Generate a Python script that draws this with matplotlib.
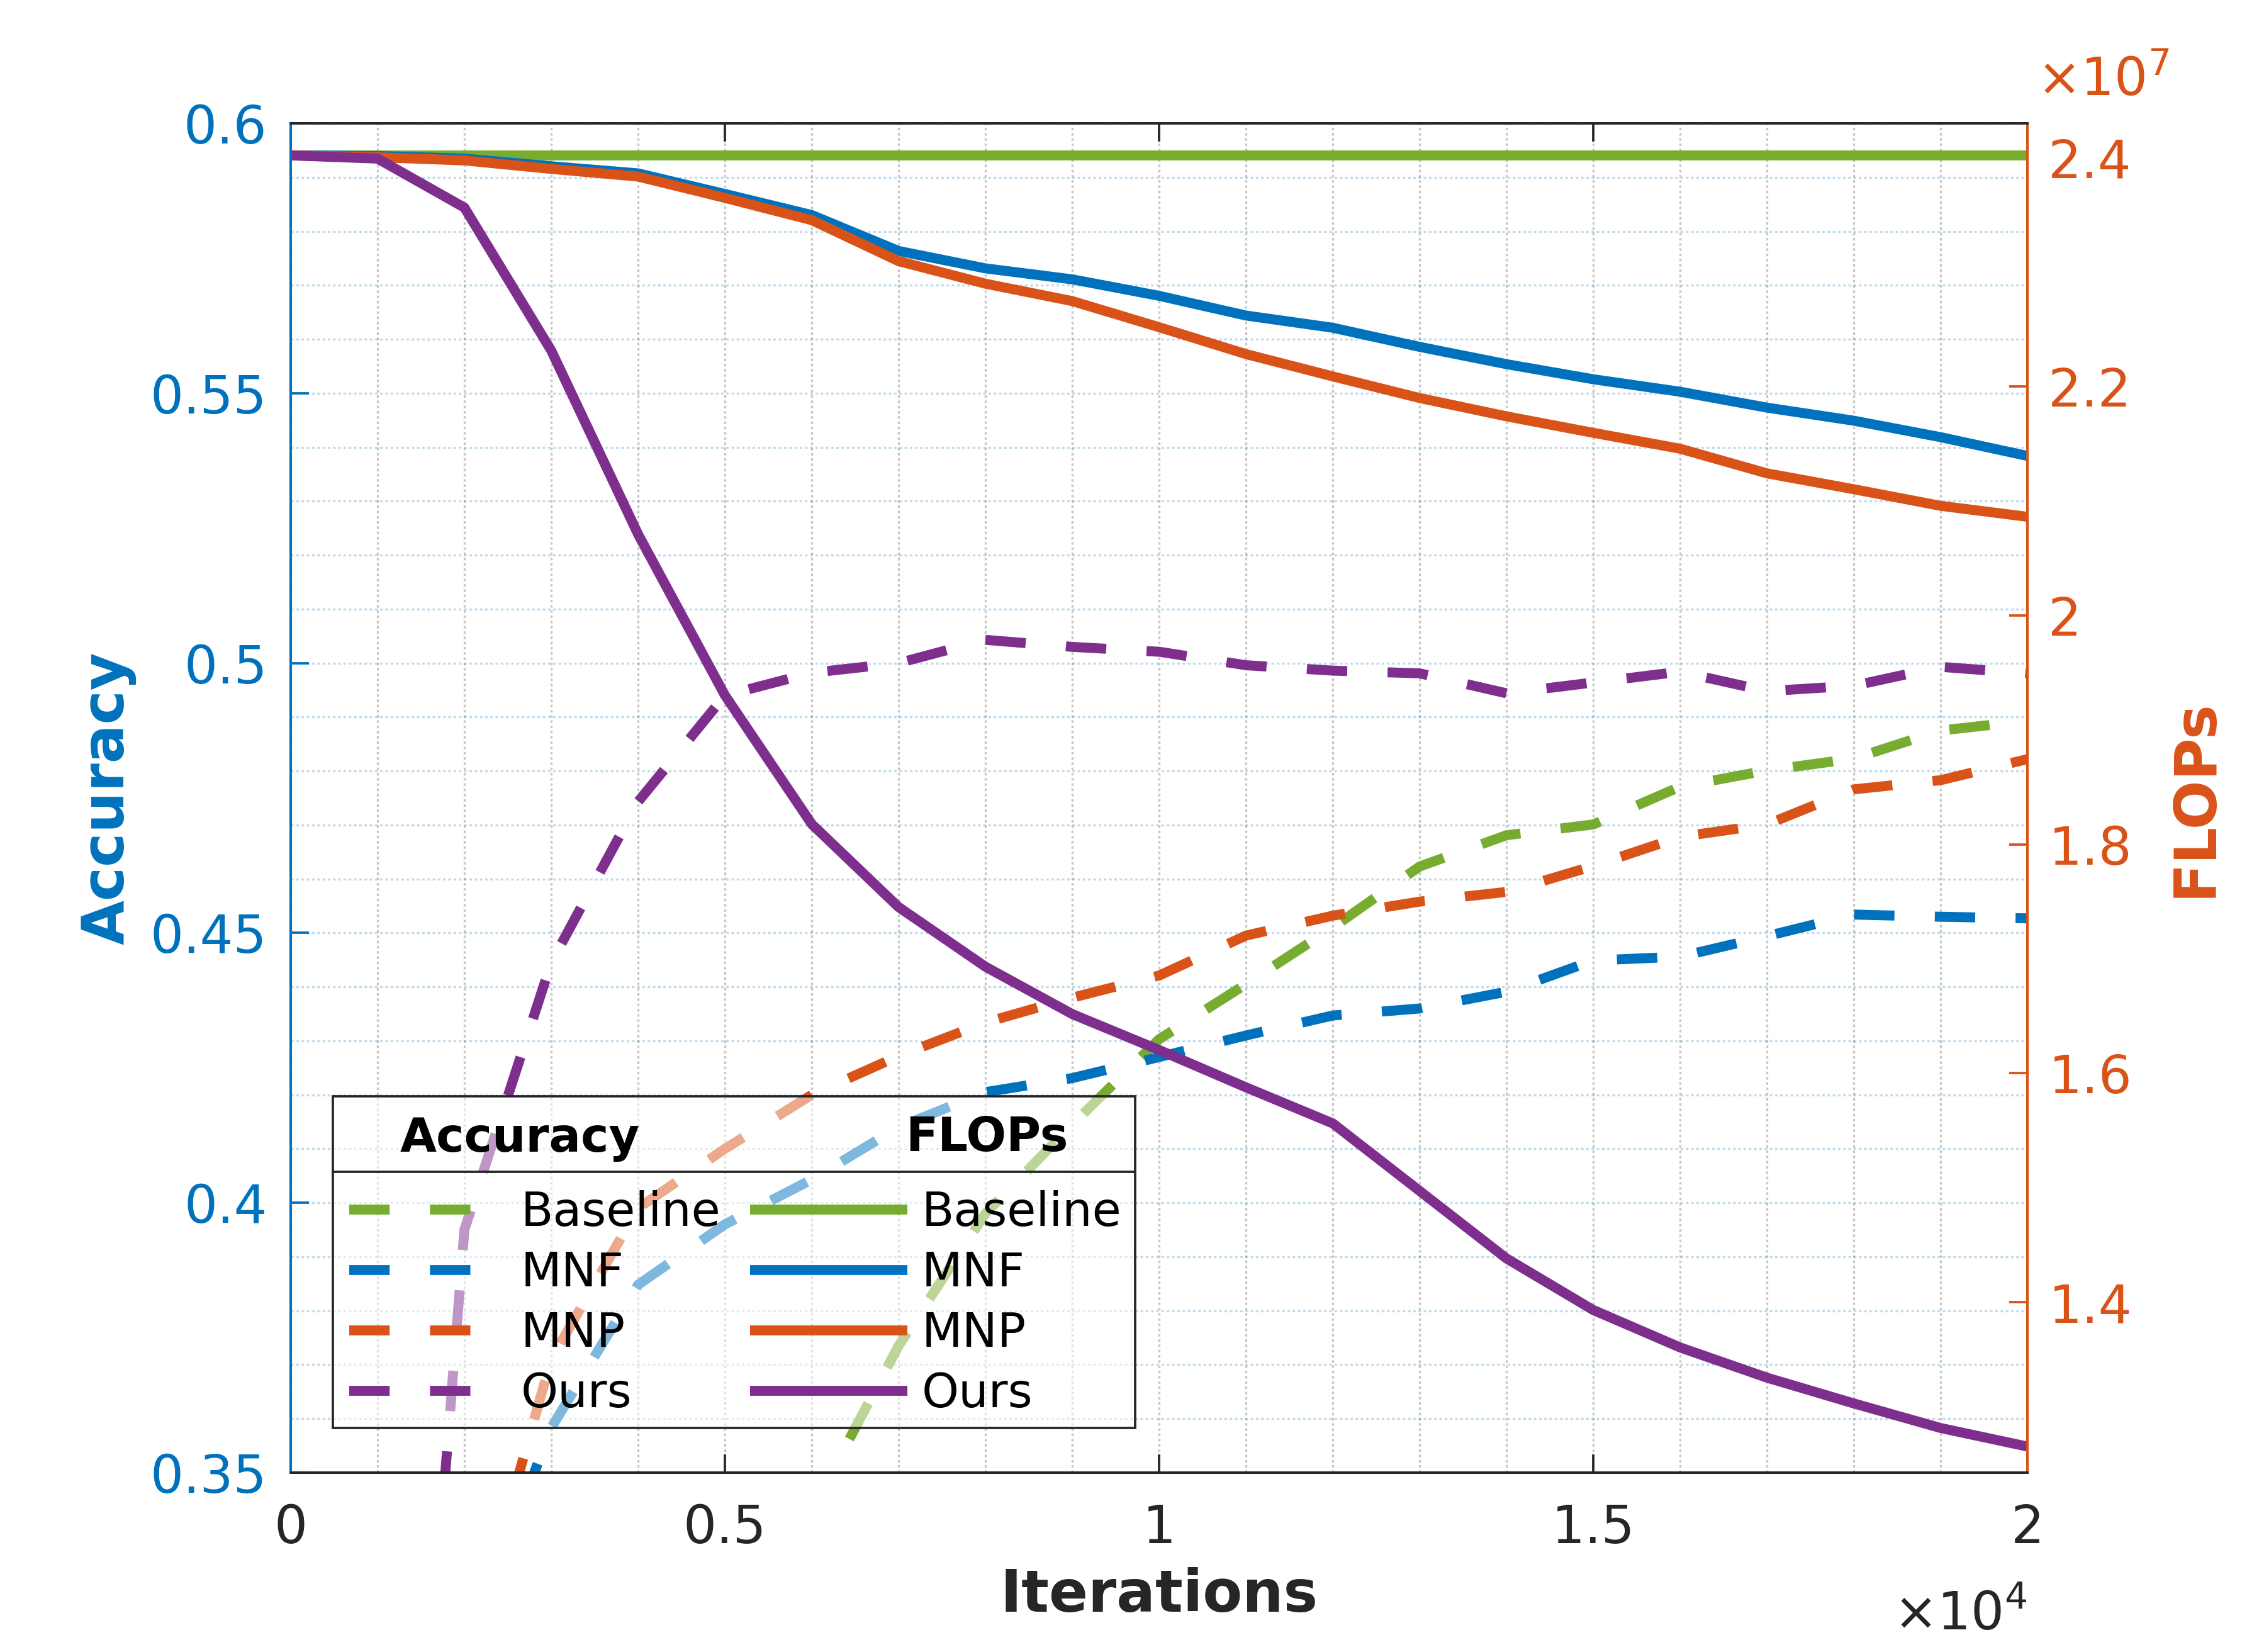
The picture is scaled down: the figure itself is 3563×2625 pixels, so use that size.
import numpy as np
import matplotlib
matplotlib.use('Agg')
import matplotlib.pyplot as plt
from matplotlib.ticker import MultipleLocator, FuncFormatter, FixedLocator
from matplotlib.patches import Rectangle
from matplotlib.lines import Line2D

plt.rcParams['font.family'] = ['DejaVu Sans']
plt.rcParams['lines.scale_dashes'] = False

blue = '#0072BD'
orange = '#D95319'
green = '#77AC30'
purple = '#7E2F8E'
dark = '#262626'

iters = np.arange(0, 20001, 1000)
methods = ['Baseline', 'MNF', 'MNP', 'Ours']
colors = [green, blue, orange, purple]

nan = np.nan
# accuracy (left axis) - nan where the curve is far below the 0.35 cut
acc_baseline = [nan, nan, nan, nan, nan, nan, 0.343, 0.3735, 0.398, 0.4145, 0.4303,
                0.4405, 0.451, 0.4623, 0.4681, 0.4701, 0.4771, 0.4801, 0.4823, 0.4875, 0.4893]
acc_mnf = [nan, nan, 0.3157, 0.3583, 0.3848, 0.396, 0.4043, 0.414, 0.4205, 0.4231, 0.427,
           0.431, 0.4347, 0.436, 0.4391, 0.4449, 0.4456, 0.4494, 0.4534, 0.453, 0.4527]
acc_mnp = [nan, nan, 0.314, 0.371, 0.399, 0.41, 0.42, 0.4272, 0.4334, 0.438, 0.4421,
           0.4495, 0.4532, 0.4558, 0.4576, 0.4624, 0.4678, 0.4701, 0.4766, 0.4783, 0.4822]
acc_ours = [nan, 0.19, 0.395, 0.4445, 0.4743, 0.494, 0.4982, 0.5, 0.5043, 0.503, 0.5021,
            0.4996, 0.4986, 0.4981, 0.4944, 0.4964, 0.4984, 0.4948, 0.4958, 0.4993, 0.4981]

# FLOPs (right axis), in units of 1e7
flops_baseline = [2.402, 2.402, 2.402, 2.402, 2.402, 2.402, 2.402, 2.402, 2.402, 2.402, 2.402,
                  2.402, 2.402, 2.402, 2.402, 2.402, 2.402, 2.402, 2.402, 2.402, 2.402]
flops_mnf = [2.402, 2.4015, 2.3992, 2.3925, 2.3863, 2.3683, 2.3499, 2.3185, 2.3033, 2.2937, 2.2793,
             2.2621, 2.2514, 2.2347, 2.2196, 2.2064, 2.1955, 2.1816, 2.1702, 2.1558, 2.1394]
flops_mnp = [2.402, 2.4004, 2.3976, 2.3902, 2.3835, 2.3649, 2.3454, 2.3096, 2.2899, 2.2747, 2.2519,
             2.2284, 2.2089, 2.19, 2.174, 2.1596, 2.1457, 2.1242, 2.1103, 2.0958, 2.0862]
flops_ours = [2.402, 2.3992, 2.3564, 2.2315, 2.071, 1.9303, 1.8177, 1.7452, 1.6931, 1.6517, 1.6203,
              1.5877, 1.5562, 1.4972, 1.4382, 1.3931, 1.3604, 1.334, 1.3115, 1.29, 1.2738]

acc_all = [acc_baseline, acc_mnf, acc_mnp, acc_ours]
flops_all = [flops_baseline, flops_mnf, flops_mnp, flops_ours]

W, H, DPI = 3563, 2625, 300
fig = plt.figure(figsize=(W / DPI, H / DPI), dpi=DPI)
ax = fig.add_axes([462 / W, 1 - 2340 / H, 2760 / W, 2144 / H])
ax2 = ax.twinx()

lw = 3.8
dash = (0, (15.4, 15.4))

acc_lines = []
for name, c, y in zip(methods, colors, acc_all):
    ln, = ax.plot(iters, y, color=c, lw=lw, linestyle=dash, dash_capstyle='butt')
    acc_lines.append(ln)

flops_lines = []
for name, c, y in zip(methods, colors, flops_all):
    ln, = ax2.plot(iters, np.array(y) * 1e7, color=c, lw=lw, solid_capstyle='butt',
                   solid_joinstyle='round')
    flops_lines.append(ln)

ax.set_xlim(0, 20000)
ax.set_ylim(0.35, 0.6)
ax2.set_ylim(1.251e7, 2.430e7)

fmt = lambda s: FuncFormatter(lambda v, p: '%g' % round(v / s, 6))
ax.xaxis.set_major_locator(MultipleLocator(5000))
ax.xaxis.set_major_formatter(fmt(1e4))
ax.xaxis.set_minor_locator(MultipleLocator(1000))
ax.yaxis.set_major_locator(FixedLocator([0.35, 0.4, 0.45, 0.5, 0.55, 0.6]))
ax.yaxis.set_major_formatter(fmt(1.0))
ax.yaxis.set_minor_locator(MultipleLocator(0.01))
ax2.yaxis.set_major_locator(FixedLocator([1.4e7, 1.6e7, 1.8e7, 2.0e7, 2.2e7, 2.4e7]))
ax2.yaxis.set_major_formatter(fmt(1e7))
ax2.yaxis.set_minor_locator(FixedLocator([]))

ax.tick_params(axis='x', which='major', direction='in', length=7, width=0.9, colors=dark,
               labelsize=20, pad=11.5, top=True, bottom=True)
ax.tick_params(axis='y', which='major', direction='in', length=7, width=0.9, colors=blue,
               labelsize=20, pad=9, left=True, right=False)
ax.tick_params(which='minor', length=0)
ax2.tick_params(axis='y', which='major', direction='in', length=7, width=0.9, colors=orange,
                labelsize=20, pad=8)
ax2.tick_params(which='minor', length=0)

ax.set_axisbelow(True)
ax.grid(True, which='both', axis='x', color=dark, alpha=0.25, linestyle=(0, (1, 1)), linewidth=0.8)
ax.grid(True, which='both', axis='y', color=blue, alpha=0.25, linestyle=(0, (1, 1)), linewidth=0.8)

for a in (ax, ax2):
    for s in a.spines.values():
        s.set_linewidth(0.9)
    a.spines['left'].set_color(blue)
    a.spines['right'].set_color(orange)
    a.spines['top'].set_color(dark)
    a.spines['bottom'].set_color(dark)

ax.set_xlabel('Iterations', fontsize=22, fontweight='bold', color=dark)
ax.xaxis.set_label_coords(0.5, (2340 - 2561.5) / 2144)
ax.xaxis.label.set_va('baseline')
ax.set_ylabel('Accuracy', fontsize=22, fontweight='bold', color=blue)
ax.yaxis.set_label_coords((172 - 462) / 2760, 0.5)
ax.yaxis.label.set_va('center')
ax2.set_ylabel('FLOPs', fontsize=22, fontweight='bold', color=orange, rotation=90)
ax2.yaxis.set_label_coords((3489 - 462) / 2760, 0.5)
ax2.yaxis.label.set_va('center')
ax2.yaxis.label.set_ha('center')

fig.text(3222 / W, 1 - 2590 / H, r'$\times10^{4}$', ha='right', va='baseline', fontsize=20, color=dark)
fig.text(3237 / W, 1 - 152 / H, r'$\times10^{7}$', ha='left', va='baseline', fontsize=20, color=orange)

# legend box (semi transparent, like the matlab one)
bx0, bx1 = (529 - 462) / 2760, (1804 - 462) / 2760
by0, by1 = (2340 - 2269) / 2144, (2340 - 1742) / 2144
bsep = (2340 - 1862) / 2144
ax2.add_patch(Rectangle((bx0, by0), bx1 - bx0, by1 - by0, transform=ax2.transAxes,
                        facecolor=(1, 1, 1, 0.5), edgecolor=dark, lw=0.9, zorder=8))
ax2.add_line(Line2D([bx0, bx1], [bsep, bsep], transform=ax2.transAxes, color=dark, lw=0.9, zorder=9))
ty = (2340 - 1829.5) / 2144
ax2.text((826 - 462) / 2760, ty, 'Accuracy', transform=ax2.transAxes, ha='center', va='baseline',
         fontsize=18, fontweight='bold', color='black', zorder=10)
ax2.text((1568 - 462) / 2760, ty, 'FLOPs', transform=ax2.transAxes, ha='center', va='baseline',
         fontsize=18, fontweight='bold', color='black', zorder=10)

fs_leg = 18
fs_px = fs_leg * DPI / 72


def make_legend(labelspacing, columnspacing, anchor):
    lg = ax2.legend(acc_lines + flops_lines, methods + methods, ncol=2, loc='upper left',
                    bbox_to_anchor=anchor, bbox_transform=ax2.transAxes, frameon=False,
                    fontsize=fs_leg, borderpad=0, borderaxespad=0,
                    handlelength=250 / fs_px, handletextpad=23.5 / fs_px,
                    labelspacing=labelspacing, columnspacing=columnspacing)
    lg.set_zorder(10)
    return lg


def measure(lg):
    fig.canvas.draw()
    r = fig.canvas.get_renderer()
    bb = [h.get_window_extent(r) for h in lg.legend_handles]
    return bb


ls, cs, anchor = 0.3, 0.6, (0.03, 0.21)
leg = make_legend(ls, cs, anchor)
bb = measure(leg)
row = (bb[0].y0 + bb[0].y1) / 2 - (bb[1].y0 + bb[1].y1) / 2
col = bb[4].x0 - bb[0].x0
ls = ls + (96.0 - row) / fs_px
cs = cs + (637.0 - col) / fs_px
leg = make_legend(ls, cs, anchor)
bb = measure(leg)
dx = 554.5 - bb[0].x0
dy = (H - 1922) - (bb[0].y0 + bb[0].y1) / 2
p = ax2.transAxes.inverted().transform(ax2.transAxes.transform(anchor) + np.array([dx, dy]))
leg = make_legend(ls, cs, tuple(p))

fig.savefig('out.png', dpi=DPI)
